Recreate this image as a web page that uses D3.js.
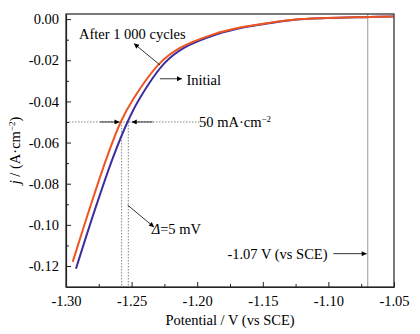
<!DOCTYPE html>
<html><head><meta charset="utf-8">
<script src="https://cdn.jsdelivr.net/npm/d3@7"></script>
<style>
body{margin:0;background:#fff;}
svg text{font-family:"Liberation Serif","Times New Roman",serif;fill:#000;}
</style></head>
<body><svg id="c" width="420" height="334"></svg>
<script>
// Data
const initialE = [-1.2924,-1.2777,-1.2642,-1.2531,-1.2441,-1.2249,-1.2101,-1.1851,-1.1651,-1.1451,-1.1256,-1.1008,-1.0683,-1.0505];
const initialJ = [-0.1213,-0.0921,-0.0673,-0.0500,-0.0388,-0.0214,-0.0140,-0.0074,-0.0041,-0.0020,-0.0003,0.0005,0.0010,0.0013];
const afterE = [-1.2949,-1.2820,-1.2689,-1.2583,-1.2487,-1.2284,-1.2131,-1.1877,-1.1674,-1.1470,-1.1268,-1.1013,-1.0683,-1.0505];
const afterJ = [-0.1180,-0.0921,-0.0673,-0.0500,-0.0388,-0.0214,-0.0140,-0.0074,-0.0041,-0.0020,-0.0003,0.0005,0.0010,0.0013];
const xTicks = [-1.30,-1.25,-1.20,-1.15,-1.10,-1.05];
const yTicks = [0.00,-0.02,-0.04,-0.06,-0.08,-0.10,-0.12];
const xMinor = [-1.275,-1.225,-1.175,-1.125,-1.075];
const yMinor = [-0.01,-0.03,-0.05,-0.07,-0.09,-0.11];
const refPotential = -1.07;
const refCurrent = -0.05;
const crossE = [-1.2576,-1.2525];

const svg = d3.select("#c");
const L=66,R=394,T=14,B=287;
const x = d3.scaleLinear().domain([-1.30,-1.05]).range([L,R]);
const y = d3.scaleLinear().domain([-0.1302,0.00248]).range([B,T]);
const fmt = d => d3.format(".2f")(d).replace("−","-");

const defs = svg.append("defs");
defs.append("marker").attr("id","ah").attr("viewBox","0 0 10 10").attr("refX",10).attr("refY",5)
  .attr("markerWidth",7).attr("markerHeight",5).attr("markerUnits","userSpaceOnUse").attr("orient","auto")
  .append("path").attr("d","M0,0L10,5L0,10Z").attr("fill","#000");

// reference lines
svg.append("line").attr("x1",x(refPotential)).attr("x2",x(refPotential)).attr("y1",T).attr("y2",B)
  .attr("stroke","#999").attr("stroke-width",1);
svg.append("line").attr("x1",L).attr("x2",x(-1.1912)).attr("y1",y(refCurrent)).attr("y2",y(refCurrent))
  .attr("stroke","#666").attr("stroke-width",0.8).attr("stroke-dasharray","1.5,1.5");
crossE.forEach(e=>svg.append("line").attr("x1",x(e)).attr("x2",x(e)).attr("y1",y(refCurrent)).attr("y2",B)
  .attr("stroke","#666").attr("stroke-width",0.8).attr("stroke-dasharray","1.5,1.5"));

// curves
const line = d3.line().x(d=>x(d[0])).y(d=>y(d[1])).curve(d3.curveCatmullRom.alpha(0.5));
svg.append("path").datum(initialE.map((e,i)=>[e,initialJ[i]])).attr("d",line)
  .attr("fill","none").attr("stroke","#3b2f9e").attr("stroke-width",2);
svg.append("path").datum(afterE.map((e,i)=>[e,afterJ[i]])).attr("d",line)
  .attr("fill","none").attr("stroke","#ee5522").attr("stroke-width",2);

// frame
svg.append("rect").attr("x",L).attr("y",T).attr("width",R-L).attr("height",B-T)
  .attr("fill","none").attr("stroke","#222").attr("stroke-width",1.2);

// axes
svg.append("g").attr("transform",`translate(0,${B})`)
  .call(d3.axisBottom(x).tickValues(xTicks).tickSizeInner(-5).tickSizeOuter(0).tickPadding(9).tickFormat(fmt));
svg.append("g").attr("transform",`translate(0,${B})`)
  .call(d3.axisBottom(x).tickValues(xMinor).tickSizeInner(-3).tickSizeOuter(0).tickFormat(""))
  .call(g=>g.select(".domain").remove());
svg.append("g").attr("transform",`translate(${L},0)`)
  .call(d3.axisLeft(y).tickValues(yTicks).tickSizeInner(-5).tickSizeOuter(0).tickPadding(7).tickFormat(fmt));
svg.append("g").attr("transform",`translate(${L},0)`)
  .call(d3.axisLeft(y).tickValues(yMinor).tickSizeInner(-3).tickSizeOuter(0).tickFormat(""))
  .call(g=>g.select(".domain").remove());
svg.selectAll(".domain").attr("stroke","#222").attr("stroke-width",1.2);
svg.selectAll(".tick line").attr("stroke","#222");
svg.selectAll(".tick text").attr("font-size",14.5);

// axis titles
svg.append("text").attr("x",(L+R)/2).attr("y",325).attr("text-anchor","middle").attr("font-size",14.5)
  .text("Potential / V (vs SCE)");
const yl = svg.append("text").attr("transform",`translate(20,${(T+B)/2}) rotate(-90)`).attr("text-anchor","middle").attr("font-size",14.5);
yl.append("tspan").attr("font-style","italic").text("j");
yl.append("tspan").text(" / (A·cm");
yl.append("tspan").attr("font-size",9).attr("dy",-5).text("−2");
yl.append("tspan").attr("dy",5).text(")");

// annotations
function arrow(e1,j1,e2,j2){
  svg.append("line").attr("x1",x(e1)).attr("y1",y(j1)).attr("x2",x(e2)).attr("y2",y(j2))
    .attr("stroke","#000").attr("stroke-width",0.8).attr("marker-end","url(#ah)");
}
svg.append("text").attr("x",x(-1.2901)).attr("y",y(-0.0096)).attr("font-size",14.5).text("After 1 000 cycles");
arrow(-1.2284,-0.0223,-1.2482,-0.0119);
svg.append("text").attr("x",x(-1.2082)).attr("y",y(-0.0322)).attr("font-size",14.5).text("Initial");
arrow(-1.2284,-0.0290,-1.2116,-0.0290);
arrow(-1.2741,refCurrent,-1.2592,refCurrent);
arrow(-1.2339,refCurrent,-1.2499,refCurrent);
const t50 = svg.append("text").attr("x",x(-1.1986)).attr("y",y(-0.0525)).attr("font-size",14.5);
t50.append("tspan").text("50 mA·cm");
t50.append("tspan").attr("font-size",9).attr("dy",-5).text("−2");
const td = svg.append("text").attr("x",x(-1.2347)).attr("y",y(-0.1045)).attr("font-size",14.5);
td.append("tspan").attr("font-style","italic").text("Δ");
td.append("tspan").text("=5 mV");
arrow(-1.2530,-0.0904,-1.2329,-0.1011);
svg.append("text").attr("x",x(-1.177)).attr("y",y(-0.1168)).attr("font-size",14.5).text("-1.07 V (vs SCE)");
arrow(-1.0963,-0.1140,-1.0708,-0.1140);
</script></body></html>
